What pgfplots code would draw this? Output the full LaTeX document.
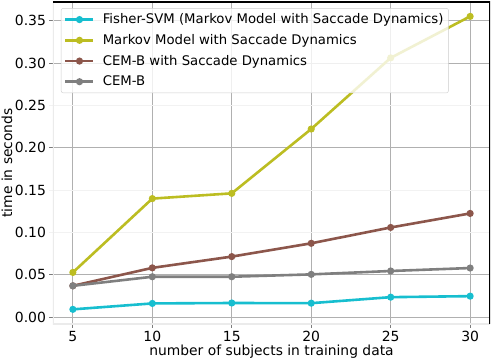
\documentclass[border=0pt]{standalone}
\usepackage{fontspec}
\setmainfont{DejaVu Sans}
\usepackage{pgfplots}
\pgfplotsset{compat=1.18}
\usetikzlibrary{calc}

\definecolor{c0}{HTML}{17BECF}
\definecolor{c1}{HTML}{BCBD22}
\definecolor{c2}{HTML}{8C564B}
\definecolor{c3}{HTML}{7F7F7F}
\definecolor{gridc}{HTML}{B0B0B0}
\definecolor{faint}{HTML}{F2F2F2}
\definecolor{spinec}{HTML}{EBEBEB}

\begin{document}
\begin{tikzpicture}
\begin{axis}[
    name=ax,
    scale only axis,
    width=437bp, height=322bp,
    xmin=3.75, xmax=31.25,
    ymin=-0.0083, ymax=0.372,
    xtick={5,10,15,20,25,30},
    ytick={0,0.05,0.2,0.3,0.35},
    extra y ticks={0.1,0.15,0.25},
    extra y tick style={
        major grid style={faint, line width=0.8bp},
        major tick style={faint, line width=0.8bp},
    },
    /pgf/number format/assume math mode=true,
    yticklabel style={/pgf/number format/.cd, fixed, fixed zerofill, precision=2},
    tick label style={font=\fontsize{14}{16}\selectfont},
    label style={font=\fontsize{13.9}{16}\selectfont},
    xlabel={number of subjects in training data},
    xlabel style={yshift=3bp},
    tick align=outside,
    tick pos=left,
    major tick length=3.5bp,
    xmajorgrids, ymajorgrids,
    grid style={gridc, line width=0.8bp},
    tick style={gridc!70!black, line width=0.8bp},
    axis line style={draw=none},
    every axis plot/.append style={line width=2.6bp, mark=*, mark size=2.2bp, mark options={solid}},
    legend cell align=left,
    legend style={
        at={(rel axis cs:0.0183,0.981)}, anchor=north west,
        fill=white, fill opacity=0.8, text opacity=1,
        draw=black!20, rounded corners=2bp,
        font=\fontsize{13.3}{16}\selectfont,
        row sep=5.2bp, inner xsep=3bp, inner ysep=3.5bp,
        /tikz/every odd column/.append style={column sep=6bp},
    },
    legend image code/.code={
        \draw (0bp,0bp) -- (28bp,0bp);
        \fill (14bp,0bp) circle[radius=2.2bp];
    },
]
\draw[spinec, line width=1.5bp] (rel axis cs:0,1) -- (rel axis cs:0,0) -- (rel axis cs:1,0);
\draw[black, line width=1.2bp] (rel axis cs:0,1) -- (rel axis cs:1,1) -- (rel axis cs:1,0);

\addplot[c0] coordinates {(5,0.009) (10,0.016) (15,0.0165) (20,0.0163) (25,0.0234) (30,0.0246)};
\addlegendentry{Fisher-SVM (Markov Model with Saccade Dynamics)}
\addplot[c1] coordinates {(5,0.0526) (10,0.1398) (15,0.146) (20,0.222) (25,0.306) (30,0.355)};
\addlegendentry{Markov Model with Saccade Dynamics}
\addplot[c2] coordinates {(5,0.0368) (10,0.058) (15,0.0713) (20,0.087) (25,0.1057) (30,0.1223)};
\addlegendentry{CEM-B with Saccade Dynamics}
\addplot[c3] coordinates {(5,0.0368) (10,0.0475) (15,0.0475) (20,0.0503) (25,0.0543) (30,0.0578)};
\addlegendentry{CEM-B}

\coordinate (sw) at (rel axis cs:0,0);
\coordinate (ne) at (rel axis cs:1,1);
\coordinate (lm) at (rel axis cs:0,0.5);
\end{axis}
\node[rotate=90, inner sep=0pt, font=\fontsize{13.9}{16}\selectfont] at ($(lm)+(-46bp,0)$) {time in seconds};
\pgfresetboundingbox
\useasboundingbox ($(sw)+(-53bp,-34bp)$) rectangle ($(ne)+(2bp,2bp)$);
\end{tikzpicture}
\end{document}
